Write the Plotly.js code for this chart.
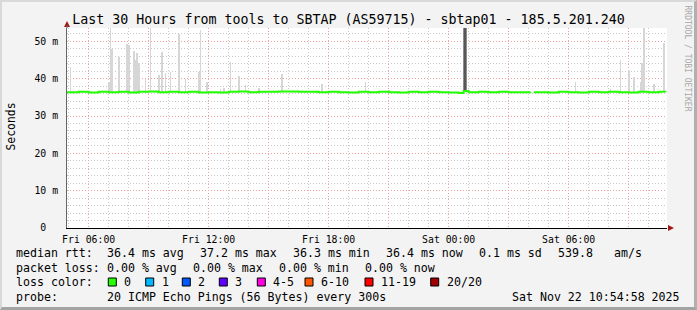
<!DOCTYPE html>
<html>
<head>
<meta charset="utf-8">
<script src="https://cdn.plot.ly/plotly-3.0.1.min.js"></script>
<style>
  html, body { margin: 0; padding: 0; background: #f3f3f3; }
  #wrap { position: relative; width: 697px; height: 310px; }
  #chart { position: absolute; left: 0; top: 0; width: 697px; height: 310px; }
  #bevel { position: absolute; left: 0; top: 0; width: 697px; height: 310px; box-sizing: border-box;
           border-top: 2px solid #d9d9d9; border-left: 2px solid #d9d9d9;
           border-right: 3px solid #b0b0b0; border-bottom: 3px solid #a3a3a3; pointer-events: none; }
</style>
</head>
<body>
<div id="wrap"><div id="chart"></div><div id="bevel"></div></div>
<script>
// ---------------- data ----------------
const titleText = 'Last 30 Hours from tools to SBTAP (AS59715) - sbtap01 - 185.5.201.240';
const xRange = ['2025-11-21 04:55', '2025-11-22 10:55'];
const xTickVals = ['2025-11-21 06:00','2025-11-21 09:00','2025-11-21 12:00','2025-11-21 15:00','2025-11-21 18:00',
                   '2025-11-21 21:00','2025-11-22 00:00','2025-11-22 03:00','2025-11-22 06:00','2025-11-22 09:00'];
const xTickText = ['Fri 06:00','','Fri 12:00','','Fri 18:00','','Sat 00:00','','Sat 06:00',''];
const yTickVals = [0, 10, 20, 30, 40, 50];
const yTickText = ['0\u00a0\u00a0', '10 m', '20 m', '30 m', '40 m', '50 m'];

// median rtt (ms)
const medianTimes = [
 '2025-11-21 04:55','2025-11-21 05:30','2025-11-21 06:00','2025-11-21 06:30','2025-11-21 07:00','2025-11-21 07:30',
 '2025-11-21 08:00','2025-11-21 08:30','2025-11-21 09:00','2025-11-21 09:30','2025-11-21 10:00','2025-11-21 10:30',
 '2025-11-21 11:00','2025-11-21 11:30','2025-11-21 12:00','2025-11-21 12:30','2025-11-21 13:00','2025-11-21 13:30',
 '2025-11-21 14:00','2025-11-21 14:30','2025-11-21 15:00','2025-11-21 15:30','2025-11-21 16:00','2025-11-21 16:30',
 '2025-11-21 17:00','2025-11-21 17:30','2025-11-21 18:00','2025-11-21 18:30','2025-11-21 19:00','2025-11-21 19:30',
 '2025-11-21 20:00','2025-11-21 20:30','2025-11-21 21:00','2025-11-21 21:30','2025-11-21 22:00','2025-11-21 22:30',
 '2025-11-21 23:00','2025-11-21 23:30','2025-11-22 00:00','2025-11-22 00:30','2025-11-22 00:45','2025-11-22 01:00',
 '2025-11-22 01:30','2025-11-22 02:00','2025-11-22 02:30','2025-11-22 03:00','2025-11-22 03:30','2025-11-22 04:05',
 '2025-11-22 04:10','2025-11-22 04:15','2025-11-22 04:30','2025-11-22 05:00','2025-11-22 05:30','2025-11-22 06:00',
 '2025-11-22 06:30','2025-11-22 07:00','2025-11-22 07:30','2025-11-22 08:00','2025-11-22 08:30','2025-11-22 09:00',
 '2025-11-22 09:30','2025-11-22 10:00','2025-11-22 10:30','2025-11-22 10:50'];
const medianValues = [
 36.4,36.5,36.3,36.5,36.4,36.5,
 36.3,36.5,36.6,36.4,36.5,36.4,
 36.5,36.3,36.4,36.3,36.5,36.6,
 36.4,36.5,36.5,36.6,36.6,36.5,
 36.5,36.4,36.5,36.4,36.3,36.5,
 36.4,36.5,36.4,36.3,36.5,36.4,
 36.5,36.4,36.3,36.2,36.7,36.4,
 36.5,36.4,36.5,36.4,36.4,36.5,
 null,36.4,36.4,36.3,36.5,36.4,
 36.3,36.5,36.4,36.5,36.4,36.3,
 36.5,36.4,36.5,36.4];

// light smoke spikes (ping spread above the median), ms
const spikeTimes = [
 '2025-11-21 05:05','2025-11-21 07:00','2025-11-21 07:05','2025-11-21 07:10','2025-11-21 07:30','2025-11-21 07:55',
 '2025-11-21 08:00','2025-11-21 08:15','2025-11-21 08:20','2025-11-21 08:25','2025-11-21 08:30','2025-11-21 08:50',
 '2025-11-21 09:05','2025-11-21 09:30','2025-11-21 09:40','2025-11-21 09:50','2025-11-21 10:05','2025-11-21 10:30',
 '2025-11-21 10:50','2025-11-21 11:30','2025-11-21 11:35','2025-11-21 11:55','2025-11-21 12:35','2025-11-21 12:45',
 '2025-11-21 13:05','2025-11-21 13:30','2025-11-21 13:50','2025-11-21 14:30','2025-11-21 15:40','2025-11-21 17:40',
 '2025-11-21 19:50','2025-11-21 21:00',
 '2025-11-22 06:20','2025-11-22 08:05','2025-11-22 08:35','2025-11-22 09:00','2025-11-22 09:15','2025-11-22 09:35',
 '2025-11-22 09:40','2025-11-22 09:45','2025-11-22 10:15','2025-11-22 10:45'];
const spikeHigh = [
 43.2,39.0,54.0,47.9,45.9,49.3,
 49.0,47.5,44.9,47.0,44.1,39.9,
 54.0,41.0,47.3,41.6,41.9,52.0,
 39.9,41.9,53.0,39.2,37.2,37.4,
 44.6,40.8,38.3,37.5,41.3,38.6,
 39.0,37.0,
 39.2,37.3,44.9,42.4,40.6,39.2,
 44.1,54.0,38.6,49.7];
const spikeLow = spikeHigh.map(() => 36.4);

// dense dark smoke burst just after midnight
const burstTimes = ['2025-11-22 00:50'];
const burstHigh = [54.0];
const burstLow = [36.4];
const burstCoreTimes = ['2025-11-22 00:48'];
const burstCoreHigh = [54.0];
const burstCoreLow = [36.6];

// legend
const lossLabels = ['0', '1', '2', '3', '4-5', '6-10', '11-19', '20/20'];
const lossColors = ['#26ff00', '#00b8ff', '#0059ff', '#5e00ff', '#ff00e0', '#ff5500', '#ff0000', '#a10000'];
const rttRow = ['median rtt:', '36.4 ms avg', '37.2 ms max', '36.3 ms min', '36.4 ms now', '0.1 ms sd', '539.8', 'am/s'];
const lossRow = ['packet loss:', '0.00 % avg', '0.00 % max', '0.00 % min', '0.00 % now'];
const probeRow = ['probe:', '20 ICMP Echo Pings (56 Bytes) every 300s'];
const stampText = 'Sat Nov 22 10:54:58 2025';

// ---------------- layout helpers (pixel -> paper) ----------------
const W = 697, H = 310, L = 67, R = 667, T = 28, B = 228;
const px = x => (x - L) / (R - L);
const py = y => (B - y) / (B - T);
const MONO = 'DejaVu Sans Mono';
const legendFont = {family: MONO, size: 11.6, color: '#000'};

const rttX = [16, 107.3, 200, 292.7, 386, 479.3, 558.3, 614.3];
const lossRowX = [16, 107.3, 193.3, 279.3, 365];
const probeX = [16, 107.3];
const squareX = [108.3, 145.7, 182.3, 219.3, 257.3, 305, 365, 430.7];
const rowY = [253, 268, 282, 296.5];

const annotations = [];
const addText = (text, x, y, font, extra) => annotations.push(Object.assign({
  text, x: px(x), y: py(y), xref: 'paper', yref: 'paper', showarrow: false,
  xanchor: 'left', yanchor: 'middle', font, borderpad: 0, borderwidth: 0
}, extra || {}));

rttRow.forEach((t, i) => addText(t, rttX[i], rowY[0], legendFont));
lossRow.forEach((t, i) => addText(t, lossRowX[i], rowY[1], legendFont));
addText('loss color:', 16, rowY[2], legendFont);
lossLabels.forEach((t, i) => addText(t, squareX[i] + 16, rowY[2], legendFont));
probeRow.forEach((t, i) => addText(t, probeX[i], rowY[3], legendFont));
addText(stampText, 680, rowY[3], legendFont, {xanchor: 'right'});
addText('Seconds', 10.5, 127, {family: MONO, size: 11.4, color: '#000'}, {xanchor: 'center', textangle: -90});
addText('RRDTOOL / TOBI OETIKER', 687, 58.5, {family: MONO, size: 8, color: '#a8a8a8'}, {xanchor: 'center', textangle: 90});

const shapes = squareX.map((x, i) => ({
  type: 'rect', xref: 'paper', yref: 'paper',
  x0: px(x), x1: px(x + 8), y0: py(278), y1: py(286),
  fillcolor: lossColors[i], line: {color: '#000', width: 1}
}));
// axis arrows
shapes.push({type: 'path', xref: 'paper', yref: 'paper', xsizemode: 'pixel', ysizemode: 'pixel',
  xanchor: 0, yanchor: 1, path: 'M -3,1 L 3,1 L 0,7 Z', fillcolor: '#a01818', line: {width: 0}});
shapes.push({type: 'path', xref: 'paper', yref: 'paper', xsizemode: 'pixel', ysizemode: 'pixel',
  xanchor: 1, yanchor: 0, path: 'M 1,-3 L 1,3 L 7,0 Z', fillcolor: '#a01818', line: {width: 0}});
shapes.push({type: 'line', xref: 'paper', yref: 'paper', x0: 0, x1: 0, y0: 1, y1: py(25),
  line: {color: '#666', width: 1}});

const diff = (hi, lo) => hi.map((v, i) => v - lo[i]);
const traces = [
  {type: 'bar', x: spikeTimes, y: diff(spikeHigh, spikeLow), base: spikeLow, width: 300000,
   marker: {color: '#d6d6d6', line: {width: 0}}, hoverinfo: 'skip'},
  {type: 'bar', x: burstTimes, y: diff(burstHigh, burstLow), base: burstLow, width: 720000,
   marker: {color: '#8e8e8e', line: {width: 0}}, hoverinfo: 'skip'},
  {type: 'bar', x: burstCoreTimes, y: diff(burstCoreHigh, burstCoreLow), base: burstCoreLow, width: 360000,
   marker: {color: '#575757', line: {width: 0}}, hoverinfo: 'skip'},
  {type: 'scatter', mode: 'lines', x: medianTimes, y: medianValues, connectgaps: false,
   line: {color: '#22ff00', width: 2, shape: 'hv'}, hoverinfo: 'skip'}
];

const layout = {
  width: W, height: H, autosize: false,
  margin: {l: L, r: W - R, t: T, b: H - B, pad: 0},
  paper_bgcolor: '#f3f3f3', plot_bgcolor: '#ffffff',
  showlegend: false, barmode: 'overlay', bargap: 0,
  title: {text: titleText, font: {family: MONO, size: 13.3, color: '#000'},
          x: 0.5, xref: 'container', xanchor: 'center', y: 1 - 19 / H, yref: 'container', yanchor: 'middle'},
  xaxis: {type: 'date', range: xRange, tickmode: 'array', tickvals: xTickVals, ticktext: xTickText,
          tickfont: {family: MONO, size: 9.8, color: '#000'}, ticks: '', ticklabelstandoff: 2,
          showgrid: true, gridcolor: '#f0a0a0', griddash: '1px,2px', gridwidth: 1,
          minor: {tickmode: 'linear', tick0: '2025-11-21 05:00', dtick: 3600000, showgrid: true,
                  gridcolor: '#c8c8c8', griddash: '1px,2px', gridwidth: 1, ticks: ''},
          showline: true, linecolor: '#000', linewidth: 1, zeroline: false, fixedrange: true},
  yaxis: {range: [0, 53.6], tickmode: 'array', tickvals: yTickVals, ticktext: yTickText,
          tickfont: {family: MONO, size: 9.8, color: '#000'}, ticks: '', ticklabelstandoff: 6,
          showgrid: true, gridcolor: '#f0a0a0', griddash: '1px,2px', gridwidth: 1,
          minor: {tickmode: 'linear', tick0: 0, dtick: 2, showgrid: true,
                  gridcolor: '#c8c8c8', griddash: '1px,2px', gridwidth: 1, ticks: ''},
          showline: true, linecolor: '#666', linewidth: 1, zeroline: false, fixedrange: true},
  annotations, shapes
};

Plotly.newPlot('chart', traces, layout, {staticPlot: true, displayModeBar: false});
</script>
</body>
</html>
